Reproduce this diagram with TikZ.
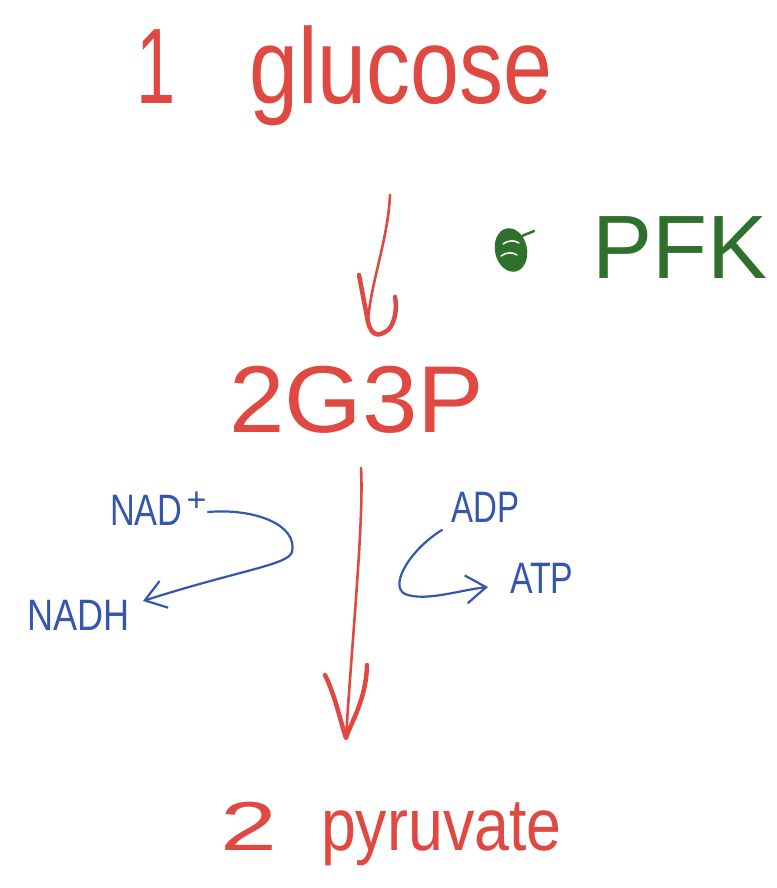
\documentclass[tikz,border=0pt]{standalone}
\usepackage{fontspec}
\setmainfont{Liberation Sans}
\usetikzlibrary{arrows.meta}
\definecolor{hred}{RGB}{224,72,66}
\definecolor{hblue}{RGB}{52,86,172}
\definecolor{hgreen}{RGB}{46,112,44}
\tikzset{
  redtxt/.style={text=hred, inner sep=0pt, anchor=base west},
  bluetxt/.style={text=hblue, inner sep=0pt, anchor=base west},
  greentxt/.style={text=hgreen, inner sep=0pt, anchor=base west},
  shaft/.style={draw=hred, line width=2.6pt, line cap=round},
  headstroke/.style={draw=hred, line width=4.5pt, line cap=round, line join=round},
  smallarrow/.style={draw=hblue, line width=2.2pt, line cap=round,
     -{Straight Barb[length=20pt,width=28pt,line width=2.2pt]}}
}
\begin{document}
\begin{tikzpicture}[x=1pt,y=-1pt]
\useasboundingbox (0,0) rectangle (776,888);
% texts
\node[redtxt, font=\fontsize{88}{90}\selectfont] (glucose) at (136,103)
  {\scalebox{0.8}[1.22]{1}\hspace{74pt}\scalebox{1}[1.22]{glucose}};
\node[redtxt, font=\fontsize{95}{97}\selectfont] (g3p) at (229,432) {\scalebox{1.05}[1]{2G3P}};
\node[redtxt, font=\fontsize{66}{68}\selectfont] (pyruvate) at (220,850)
  {\scalebox{1.55}[1.05]{2}\hspace{44pt}\scalebox{0.95}[1.12]{pyruvate}};
\node[greentxt, font=\fontsize{90}{92}\selectfont] (pfk) at (592,278) {PFK};
\node[bluetxt, font=\fontsize{44}{46}\selectfont] (nadp) at (110,525)
  {\scalebox{0.78}[1]{NAD}\hspace{4pt}\raisebox{14pt}{\fontsize{34}{34}\selectfont +}};
\node[bluetxt, font=\fontsize{44}{46}\selectfont] (nadh) at (27,630) {\scalebox{0.82}[1]{NADH}};
\node[bluetxt, font=\fontsize{44}{46}\selectfont] (adp) at (451,522) {\scalebox{0.75}[1]{ADP}};
\node[bluetxt, font=\fontsize{44}{46}\selectfont] (atp) at (510,593) {\scalebox{0.77}[1]{ATP}};
% green scribbled mark
\fill[hgreen, rotate around={12:(511,250)}] (511,250) ellipse (16pt and 22pt);
\draw[white, line width=1.5pt, line cap=round] (503,244) .. controls (508,240) and (515,240) .. (519,243);
\draw[white, line width=1.5pt, line cap=round] (501,256) .. controls (506,252) and (513,252) .. (517,255);
\draw[hgreen, line width=2.5pt, line cap=round] (522,236) -- (534,231);
% connector coordinates
\coordinate (a1s) at (390,195);
\coordinate (a1e) at (368,322);
\coordinate (a2s) at (361,468);
\coordinate (a2e) at (346,738);
\coordinate (n1) at (208,512);
\coordinate (n2) at (143,601);
\coordinate (d1) at (442,530);
\coordinate (d2) at (488,587);
% main arrows
\draw[shaft] (a1s) .. controls (388,240) and (370,285) .. (a1e);
\draw[headstroke] (359,275) -- (368,322) .. controls (372,338) and (380,336) .. (388,330)
   .. controls (396,322) and (397,306) .. (395,297);
\draw[shaft] (a2s) .. controls (364,520) and (352,640) .. (a2e);
\draw[headstroke] (325,675) .. controls (335,695) and (340,720) .. (a2e)
   .. controls (352,720) and (366,700) .. (367,665);
% side arrows
\draw[smallarrow] (n1) .. controls (255,508) and (298,525) .. (292,552)
   .. controls (288,565) and (240,570) .. (n2);
\draw[smallarrow] (d1) .. controls (412,548) and (388,585) .. (405,594)
   .. controls (425,602) and (460,590) .. (d2);
\end{tikzpicture}
\end{document}
